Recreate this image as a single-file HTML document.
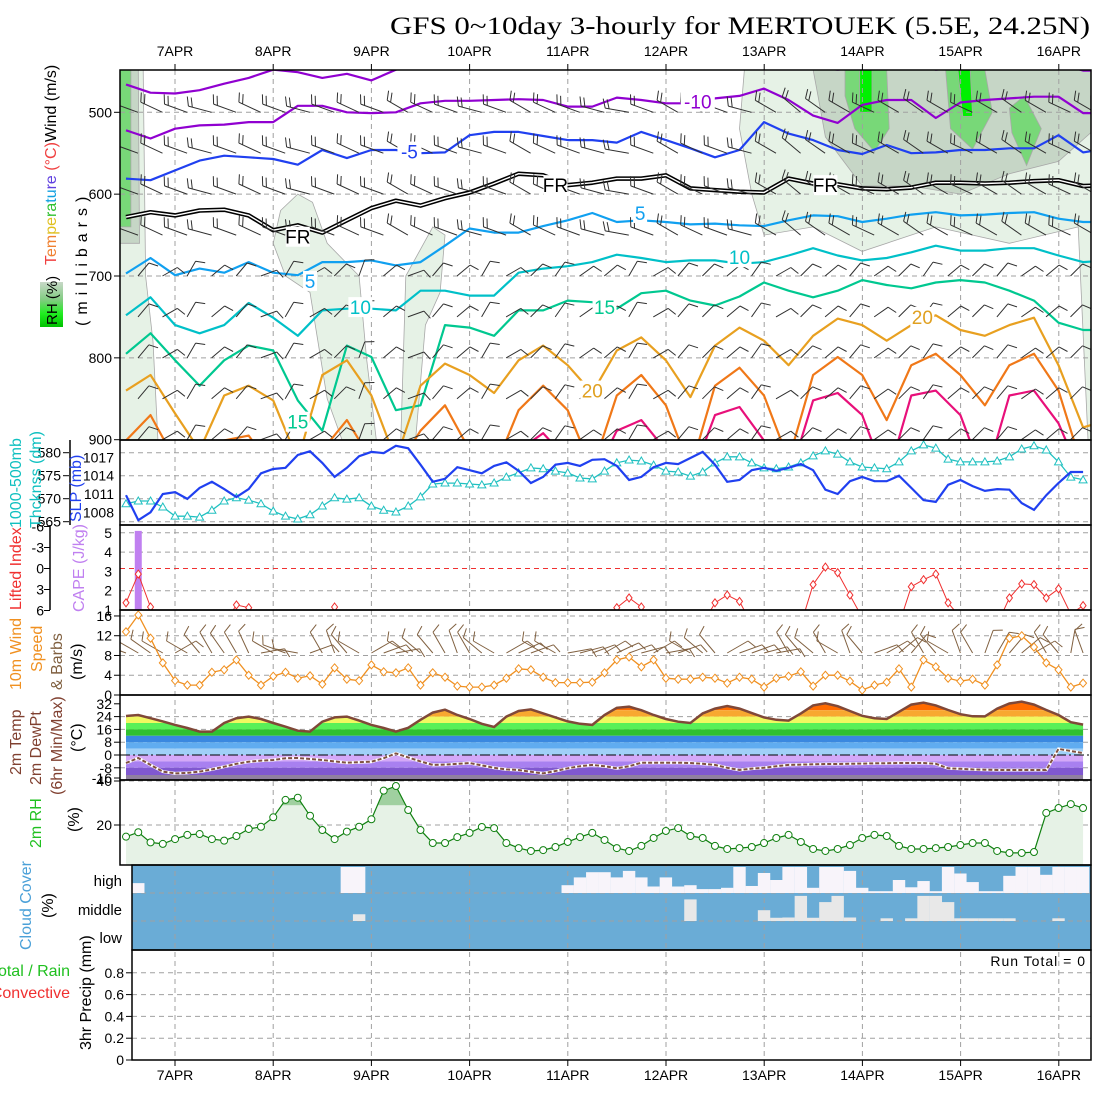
<!DOCTYPE html>
<html><head><meta charset="utf-8">
<style>
html,body{margin:0;padding:0;background:#fff;}
svg{display:block;font-family:"Liberation Sans",sans-serif;}
</style></head>
<body>
<svg id="chart" xmlns="http://www.w3.org/2000/svg" width="1100" height="1100" viewBox="0 0 1100 1100">
<defs>
<clipPath id="c1"><rect x="120" y="70" width="971" height="370"/></clipPath>
<clipPath id="c2"><rect x="120" y="440" width="971" height="85"/></clipPath>
<clipPath id="c3"><rect x="120" y="525" width="971" height="85"/></clipPath>
<clipPath id="c4"><rect x="120" y="610" width="971" height="85"/></clipPath>
<clipPath id="c5"><rect x="120" y="695" width="971" height="85"/></clipPath>
<clipPath id="c6"><rect x="120" y="780" width="971" height="85"/></clipPath>
<clipPath id="c7"><rect x="132" y="865" width="959" height="85"/></clipPath>
<clipPath id="tclip"><path id="tclipPath" d=""/></clipPath>
<linearGradient id="rhgrad" x1="0" y1="1" x2="0" y2="0"><stop offset="0" stop-color="#00c000"/><stop offset="0.3" stop-color="#20ee20"/><stop offset="0.6" stop-color="#80cc80"/><stop offset="1" stop-color="#c8d8c8"/></linearGradient>
</defs>
<text x="390" y="34" font-family="Liberation Serif, serif" font-size="25" textLength="700" lengthAdjust="spacingAndGlyphs">GFS 0~10day 3-hourly for MERTOUEK (5.5E, 24.25N)</text>
<g id="bg"></g>
<g id="grid"></g>
<g id="marks"></g>
<g id="frames" fill="none" stroke="#000" stroke-width="1.5">
<rect x="120" y="70" width="971" height="370"/>
<rect x="120" y="440" width="971" height="85"/>
<rect x="120" y="525" width="971" height="85"/>
<rect x="120" y="610" width="971" height="85"/>
<rect x="120" y="695" width="971" height="85"/>
<rect x="120" y="780" width="971" height="85"/>
<rect x="132" y="865" width="959" height="85"/>
<rect x="132" y="950" width="959" height="110"/>
<line x1="70" y1="440" x2="70" y2="525"/>
<line x1="50" y1="525" x2="50" y2="610"/>
</g>
<g id="ticks" font-size="13"></g>
<g id="side" font-size="15">
<text transform="translate(56,265) rotate(-90)" font-size="16"><tspan fill="#f04040">T</tspan><tspan fill="#f08030">em</tspan><tspan fill="#e0c020">pe</tspan><tspan fill="#30c030">ra</tspan><tspan fill="#10a0e0">tu</tspan><tspan fill="#6040e0">re</tspan><tspan fill="#f04040"> (°C)</tspan><tspan fill="#000">Wind (m/s)</tspan></text>
<rect x="40" y="282" width="23" height="45" fill="url(#rhgrad)"/>
<text transform="translate(57,325) rotate(-90)" font-size="15">RH (%)</text>
<text transform="translate(87,326) rotate(-90)" font-size="16" letter-spacing="6">(millibars)</text>
<text transform="translate(21,528) rotate(-90)" fill="#10c0c0" font-size="16">1000-500mb</text>
<text transform="translate(41,528) rotate(-90)" fill="#10c0c0" font-size="16">Thcknss (dm)</text>
<text transform="translate(81,522) rotate(-90)" fill="#2040f0" font-size="16">SLP (mb)</text>
<text transform="translate(21,610) rotate(-90)" fill="#f03030" font-size="16">Lifted Index</text>
<text transform="translate(84,612) rotate(-90)" fill="#c080f0" font-size="16">CAPE (J/kg)</text>
<text transform="translate(21,690) rotate(-90)" fill="#f09020" font-size="16">10m Wind</text>
<text transform="translate(42,672) rotate(-90)" fill="#f09020" font-size="16">Speed</text>
<text transform="translate(62,690) rotate(-90)" fill="#806040" font-size="16">&amp; Barbs</text>
<text transform="translate(82,680) rotate(-90)" font-size="16">(m/s)</text>
<text transform="translate(21,775) rotate(-90)" fill="#804030" font-size="16">2m Temp</text>
<text transform="translate(41,785) rotate(-90)" fill="#804030" font-size="16">2m DewPt</text>
<text transform="translate(62,795) rotate(-90)" fill="#804030" font-size="16">(6hr Min/Max)</text>
<text transform="translate(82,752) rotate(-90)" font-size="16">(°C)</text>
<text transform="translate(41,848) rotate(-90)" fill="#20c020" font-size="16">2m RH</text>
<text transform="translate(79,832) rotate(-90)" font-size="16">(%)</text>
<text transform="translate(31,950) rotate(-90)" fill="#4aa0d8" font-size="16">Cloud Cover</text>
<text transform="translate(53,918) rotate(-90)" font-size="16">(%)</text>
<text x="70" y="976" fill="#20c020" font-size="16" text-anchor="end">Total / Rain</text>
<text x="70" y="998" fill="#f03030" font-size="16" text-anchor="end">Convective</text>
<text transform="translate(91,1050) rotate(-90)" font-size="16">3hr Precip (mm)</text>
<text x="122" y="886" font-size="15" text-anchor="end">high</text>
<text x="122" y="915" font-size="15" text-anchor="end">middle</text>
<text x="122" y="943" font-size="15" text-anchor="end">low</text>
<text x="1086" y="966" font-size="14" text-anchor="end" letter-spacing="1">Run Total = 0</text>
</g>
</svg>
<script>
// ---------- data ----------
const days = ['7APR','8APR','9APR','10APR','11APR','12APR','13APR','14APR','15APR','16APR'];
const presTicks = [500,600,700,800,900];
const thkTicks = [580,575,570,565];
const slpTicks = [1017,1014,1011,1008];
const capeTicks = [1,2,3,4,5];
const liTicks = [6,3,0,-3,-6];
const wsTicks = [0,4,8,12,16];
const tTicks = [32,24,16,8,0,-8,-16];
const rhTicks = [20,40];
const prTicks = [0,0.2,0.4,0.6,0.8];

// isotherms (mb), 6-hourly from 6APR12Z
const isoM15 = [466,476,477,473,465,458,448,451,458,453,461,448,439,438,438,438,438,438,438,438,438,438,438,438,438,438,440,440,445,448,445,440,440,448,445,440,440,440,440,449,449];
const isoM10 = [522,532,520,516,515,512,512,492,492,500,501,500,489,486,486,485,484,485,493,493,482,485,489,489,483,480,471,485,504,513,491,485,485,507,488,485,483,481,481,501,501];
const isoM5 = [581,583,571,559,553,555,557,564,546,556,546,546,550,549,528,524,524,529,534,534,537,524,534,544,555,546,512,526,534,546,551,540,550,549,546,546,544,544,528,549,544];
const isoFR = [628,622,626,620,619,626,644,638,647,632,617,608,614,605,598,587,575,577,589,586,581,581,577,593,595,597,598,581,587,588,593,594,592,586,586,587,586,584,583,590,589];
const iso5 = [697,678,699,691,696,683,696,699,683,683,681,687,683,663,642,647,647,639,632,623,634,632,634,637,636,638,639,632,626,627,634,630,625,622,626,625,623,622,630,634,634];
const iso10 = [748,726,760,770,760,733,751,773,742,740,740,742,718,718,724,724,696,691,688,683,674,678,683,681,681,685,683,675,666,675,681,678,671,663,669,669,666,666,675,683,681];
const iso15 = [795,770,803,834,803,785,791,852,889,785,799,864,858,760,763,773,742,742,730,732,740,721,718,730,736,725,708,718,726,718,705,711,715,708,705,708,718,730,757,766,766];
const iso20 = [840,821,868,913,846,834,852,925,821,803,846,925,834,807,821,843,803,785,809,843,791,775,803,848,785,763,779,809,773,752,760,779,760,748,766,773,760,751,809,885,876];
const iso25 = [901,870,925,937,901,895,937,937,913,876,925,937,889,858,913,937,864,834,864,937,846,821,858,937,834,812,846,925,821,799,821,876,809,795,821,858,809,795,840,937,937];
const iso30 = [950,950,950,950,950,950,950,950,950,950,950,950,950,950,950,950,913,892,925,950,889,876,913,950,870,860,901,950,852,843,870,950,846,840,870,950,846,840,880,950,950];
const isoLabels = [['-10',46.6,487,'#9000d0'],['-5',23.1,548,'#2040f0'],['FR',14,652,'#000'],['FR',35,589,'#000'],['FR',57,589,'#000'],['5',41.9,623,'#10a0f0'],['5',15,706,'#10a0f0'],['10',19.1,738,'#00c0c8'],['10',50,677,'#00c0c8'],['15',14,878,'#00c890'],['15',39,738,'#00c890'],['20',38,840,'#e0a020'],['20',64.9,750,'#e0a020']];
// upper-air barbs, 6-hourly direction (deg from)
const barbLevels = [500,550,600,650,700,750,800,850,900];
const dirUpper = [290,295,290,285,290,295,290,285,290,295,290,300,295,290,285,290,300,295,290,285,280,290,300,295,290,285,300,310,305,300,295,300,305,300,295,300,305,300,295,300,300];
const dirLower = [40,60,30,50,40,70,30,60,45,20,50,70,40,50,30,60,45,35,55,50,30,60,40,45,50,35,60,45,50,40,55,45,35,50,45,40,55,50,45,40,50];
// RH shading regions [6h index, mb]
const rhPale = [
 [[-0.3,448],[0.7,448],[0.8,700],[1.1,780],[1.3,900],[-0.3,900]],
 [[6.3,620],[7,600],[7.6,610],[8.2,660],[9.5,700],[9.8,800],[10.2,900],[8.8,900],[8.2,850],[7.5,720],[6.5,700],[6,660]],
 [[11.4,700],[12.5,640],[13,650],[12.8,720],[12.2,760],[11.8,900],[11.2,900]],
 [[25.2,448],[40.5,448],[40.5,900],[39.2,900],[38.8,640],[36,660],[33,640],[30,670],[28,640],[26,650],[25.5,600],[25,520]]];
const rhMid = [
 [[-0.3,448],[0.5,448],[0.55,660],[-0.3,660]],
 [[28,448],[39.5,448],[39.5,520],[38,560],[36,575],[34,600],[32,590],[30,590],[28.5,530],[28.2,480]],
 [[39.3,480],[40.5,480],[40.5,900],[39.6,900]]];
const rhGreen = [
 [[-0.3,448],[0.2,448],[0.2,640],[-0.3,640]],
 [[29.3,448],[31,448],[31.1,520],[30.5,548],[29.7,520],[29.3,480]],
 [[33.4,448],[35,448],[35.3,500],[34.5,545],[33.6,520]],
 [[36,495],[36.6,480],[37.3,520],[36.7,565],[36.1,525]]];
const rhBright = [[[29.9,448],[30.4,448],[30.4,500],[29.9,500]],[[33.9,448],[34.4,448],[34.5,505],[34.1,505]]];

// 3-hourly series
const slp = [1010.8,1006.7,1008.0,1011.0,1011.3,1010.2,1012.0,1013.0,1011.8,1010.5,1011.8,1014.4,1015.1,1015.3,1017.4,1018.0,1016.1,1013.8,1015.3,1017.2,1017.9,1017.7,1018.9,1018.5,1015.8,1013.0,1013.5,1015.4,1014.9,1014.4,1015.6,1016.2,1014.8,1012.8,1013.8,1015.8,1016.1,1015.6,1016.6,1016.7,1015.6,1013.3,1013.8,1015.4,1016.1,1015.9,1016.9,1017.9,1015.8,1013.0,1013.3,1014.9,1015.3,1014.8,1015.3,1015.9,1014.9,1011.7,1011.0,1013.1,1013.8,1013.1,1013.1,1014.0,1012.0,1010.0,1009.7,1012.5,1013.3,1012.3,1011.5,1011.8,1011.7,1009.5,1008.4,1010.8,1012.8,1014.6,1014.6];
const thickness = [568.9,569.5,569.5,568.2,566.2,566.2,566.0,567.5,569.5,570.2,569.7,568.9,567.3,566.2,565.6,566.5,568.4,570.2,569.9,570.2,568.4,567.5,567.1,568.4,570.4,573.2,573.4,573.4,573.2,573.0,573.4,574.7,575.6,576.7,576.5,576.0,575.6,574.5,574.3,576.0,577.8,578.4,578.2,577.3,576.0,575.8,574.9,575.8,577.8,579.1,579.1,577.8,576.7,576.5,576.9,577.8,579.3,580.4,579.7,578.0,576.9,576.7,576.5,578.0,580.4,581.7,581.0,578.6,578.0,578.0,578.0,578.2,579.1,580.8,581.5,580.6,578.0,574.7,574.1];
const cape = [0,5.1,0,0,0,0,0,0,0,0,0,0,0,0,0,0,0,0,0,0,0,0,0,0,0,0,0,0,0,0,0,0,0,0,0,0,0,0,0,0,0,0,0,0,0,0,0,0,0,0,0,0,0,0,0,0,0,0,0,0,0,0,0,0,0,0,0,0,0,0,0,0,0,0,0,0,0,0,0];
const liftedIndex = [4.9,0.8,5.5,8,8,8,8,8,8,5.2,5.6,8,8,8,8,8,8,5.5,8,8,8,8,8,8,8,8,8,8,8,8,8,8,8,8,8,8,8,8,8,8,5.6,4.2,5.5,8,8,8,8,8,4.9,3.8,4.7,8,8,8,8,8,2.3,-0.2,0.6,3.8,7,8,8,8,2.6,1.6,0.8,4.9,7,8,8,8,4.2,2.2,2.3,4.2,2.9,6.5,5.3];
const windSpeed = [12.8,16.2,11.5,6.5,2.9,2.0,2.0,4.6,5.1,7.1,4.0,2.0,3.8,4.6,3.4,3.9,2.2,5.5,3.2,2.9,6.1,4.7,4.5,5.5,2.0,4.5,3.6,1.8,1.6,1.6,2.0,3.4,5.3,5.1,3.6,2.5,2.5,2.5,2.6,4.5,7.1,7.7,5.7,7.1,3.4,3.2,3.2,3.6,3.4,2.4,3.6,3.2,1.6,3.4,3.8,4.7,1.8,4.0,4.0,2.8,1.0,2.0,2.6,5.3,1.6,7.1,5.7,3.4,2.8,3.2,2.0,6.1,11.5,12.0,9.7,6.5,5.1,1.6,2.4];
const windDir = [290,300,305,300,60,300,320,330,325,330,335,80,300,290,280,70,330,340,320,300,60,70,80,300,310,320,330,340,330,310,300,60,65,70,300,300,80,75,70,60,65,70,75,60,80,70,300,310,320,60,70,70,75,80,330,320,310,330,300,340,320,70,60,50,40,330,320,300,340,330,20,30,40,50,60,330,320,10,340];
const temp2m = [24.4,25,23,21,18.8,16.9,14.6,14.6,20,23,24,22.5,20,17.7,15.2,14.6,20.8,23.5,24,21.5,18.8,16.9,14.6,17,22,26.5,28.3,25,22.5,19.5,17.5,24,27.5,28.5,26,23.5,21,19.5,18.8,25,29.5,30.2,28,25,22.5,20.8,20,26,29,30.6,29,26.2,23.5,22,21.5,26,31,32.3,30.5,27.5,24.5,23,22.5,27,31.5,32.7,31,28.1,25.5,24.2,24.1,29,32.2,33.3,31.5,28.1,25,20.5,19];
const dew2m = [-5,-1.9,-6.2,-10.4,-11.5,-11.2,-10.4,-9,-7.3,-5.5,-4.2,-3.5,-3.1,-2,-1.9,-2.5,-3.1,-4,-4.8,-4.5,-4.2,-2,1,-1.5,-4,-6.2,-6,-5.5,-5,-6.5,-8,-9,-9.4,-10.5,-11.5,-10,-8.3,-7,-6.2,-7,-8.3,-7,-4.8,-4.8,-4.8,-4.8,-5,-5.5,-6.2,-8,-9.4,-8.5,-8,-7,-6.2,-6,-5.8,-5.6,-5.6,-5.5,-5.4,-5.2,-5.1,-5,-5,-5,-5.5,-8.3,-8.6,-9,-9.2,-9.4,-9.4,-9.4,-9.4,-9.4,3.8,2.5,1.2];
const rh2m = [14.7,16.7,12.1,11.4,13.6,15.5,15.9,13.6,12.9,15,18.2,19.2,23.5,31.4,32.4,24.2,17.7,13.6,17,19.2,22.6,35.6,37.7,26.8,17.7,11.8,11.8,14.5,16.4,19.1,18.6,11.8,9.5,8.2,8.6,10,12.3,14.5,16.4,13.2,9.5,8.2,10.5,14.1,17.3,18.6,15,14.1,10.5,9.1,9.5,10,11.8,14.1,15.5,12.3,9.1,8.2,9.1,10.9,14.1,15.5,15,10.5,9.1,9.1,9.5,10,10.9,11.8,11.8,8.2,7.3,7.3,7.7,25.5,27.7,29.5,27.7];
const cloudHigh = [0,0.38,0,0,0,0,0,0,0,0,0,0,0,0,0,0,0,0,1,1,0,0,0,0,0,0,0,0,0,0,0,0,0,0,0,0,0.3,0.6,0.8,0.8,0.6,0.85,0.6,0.25,0.6,0.25,0.3,0.15,0.15,0.2,1,0.27,0.77,0.5,1,1,0.2,1,1,0.85,0.2,0.07,0.07,0.5,0.22,0.46,0.07,1,0.75,0.42,0.07,0.07,0.66,1,1,0.7,1,1,1];
const cloudMid = [0,0,0,0,0,0,0,0,0,0,0,0,0,0,0,0,0,0,0,0.25,0,0,0,0,0,0,0,0,0,0,0,0,0,0,0,0,0,0,0,0,0,0,0,0,0,0,0.8,0,0,0,0,0,0.4,0.12,0.13,0.93,0.12,0.7,0.93,0.13,0,0,0.1,0,0.1,0.93,0.93,0.7,0.1,0.1,0.1,0.1,0.1,0,0,0,0.1,0,0];
const cloudLow = new Array(79).fill(0);
const precip = new Array(79).fill(0);

// ---------- axes ----------
const NS = 'http://www.w3.org/2000/svg';
const X = i => 126 + i*12.27;
const X6 = j => 126 + j*24.54;
const yP = p => 112.3 + (p-500)*0.8185;
const ySLP = v => 475.7 + (1014-v)*6.1;
const yThk = v => 452.7 + (580-v)*4.6;
const yCAPE = v => 610 - (v-1)*19.3;
const yLI = v => 568.5 + v*7;
const yWS = v => 695 - v*4.94;
const yT = v => 755 - v*1.6;
const yRH = v => 869 - v*2.2;
const yPr = v => 1060 - v*109;
const xDay = d => 175 + d*98.2;

function mk(tag, attrs, parent){const e=document.createElementNS(NS,tag);for(const k in attrs)e.setAttribute(k,attrs[k]);parent.appendChild(e);return e;}
function poly(xs, ys){return xs.map((x,k)=>(k?'L':'M')+x.toFixed(1)+' '+ys[k].toFixed(1)).join('');}
const gBg=document.getElementById('bg'), gGrid=document.getElementById('grid'), gM=document.getElementById('marks'), gT=document.getElementById('ticks');
const panel = n => {const g=mk('g',{'clip-path':'url(#c'+n+')'},gM);return g;};

// background shading in upper panel
const gRH = mk('g',{'clip-path':'url(#c1)'},gBg);
[[rhPale,'#e6f2e6'],[rhMid,'#c6d6c6'],[rhGreen,'#78d878'],[rhBright,'#00f000']].forEach(([set,col])=>{
  set.forEach(reg=>{
    const el = mk('path',{d:poly(reg.map(q=>X6(q[0])),reg.map(q=>yP(q[1])))+'Z',fill:col,stroke:'#a8a8a8','stroke-width':0.8},gRH);
    
    
  });
});
// cloud background
{const el=mk('rect',{x:132,y:865,width:959,height:85,fill:'#6aacd6'},gBg);

}

// grid lines
days.forEach((d,k)=>{
  const x=xDay(k);
  const el=mk('line',{x1:x,y1:70,x2:x,y2:1060,stroke:'#a0a0a0','stroke-dasharray':'5,4','stroke-width':1},gGrid);
  
  
  [[56],[1080]].forEach(([yy])=>{
    const t=mk('text',{x:x,y:yy,'text-anchor':'middle','font-size':14},gT);t.textContent=d;
    
    
    mk('line',{x1:x,y1:yy===56?64:1060,x2:x,y2:yy===56?70:1066,stroke:'#000'},gT);
  });
});
function hgrid(y,x0,col,dash){const el=mk('line',{x1:x0,y1:y,x2:1091,y2:y,stroke:col||'#a0a0a0','stroke-dasharray':dash||'5,4'},gGrid);

}
function tlabel(txt,x,y,anchor,col){const t=mk('text',{x:x,y:y+5,'text-anchor':anchor||'end',fill:col||'#000','font-size':14},gT);t.textContent=txt;


mk('line',{x1:anchor==='start'?x-4:x+2,y1:y,x2:anchor==='start'?x-10:x+8,y2:y,stroke:'#000'},gT);}
presTicks.forEach(p=>{if(p<900)hgrid(yP(p),120);tlabel(String(p),112,yP(p));});
thkTicks.forEach(v=>{hgrid(yThk(v),120);tlabel(String(v),61,yThk(v));});
slpTicks.forEach(v=>{const t=mk('text',{x:114,y:ySLP(v)+5,'text-anchor':'end','font-size':14},gT);t.textContent=String(v);

});
capeTicks.forEach(v=>{if(v>1&&v!==3)hgrid(yCAPE(v),120);const t=mk('text',{x:112,y:yCAPE(v)+5,'text-anchor':'end','font-size':14},gT);t.textContent=String(v);

});
liTicks.forEach(v=>{const t=mk('text',{x:44,y:yLI(v)+5,'text-anchor':'end','font-size':14},gT);t.textContent=String(v);


mk('line',{x1:44,y1:yLI(v),x2:50,y2:yLI(v),stroke:'#000'},gT);});
hgrid(yLI(0),120,'#f03030','5,4');
wsTicks.forEach(v=>{if(v>0)hgrid(yWS(v),120);tlabel(String(v),112,yWS(v));});
tTicks.forEach(v=>{if(v<32&&v>-16&&v!==0)hgrid(yT(v),120);if(v===0)hgrid(yT(0),120,'#000','10,3,2,3');tlabel(String(v),112,Math.min(yT(v),778));});
rhTicks.forEach(v=>{hgrid(yRH(v),120);tlabel(String(v),112,yRH(v));});
hgrid(893,132);hgrid(921,132);
prTicks.forEach(v=>{if(v>0)hgrid(yPr(v),132);tlabel(String(v),124,yPr(v));});

// ---------- upper panel: isotherms ----------
const g1 = panel(1);
const idx41 = isoFR.map((_,j)=>j);
function iso(arr,col,name,w){
  const d=poly(idx41.map(X6),arr.map(yP));
  const el=mk('path',{d:d,fill:'none',stroke:col,'stroke-width':w||2.2,'stroke-linejoin':'round'},g1);
  
  
  return d;
}
iso(isoM15,'#9000d0','isotherm-minus15');
iso(isoM10,'#9000d0','isotherm-minus10');
iso(isoM5,'#2040f0','isotherm-minus5');
const dFR = iso(isoFR,'#000','isotherm-freezing',4.5);
{const el=mk('path',{d:dFR,fill:'none',stroke:'#fff','stroke-width':1.4},g1);

}
iso(iso5,'#10a0f0','isotherm-5');
iso(iso10,'#00c0c8','isotherm-10');
iso(iso15,'#00c890','isotherm-15');
iso(iso20,'#e8a020','isotherm-20');
iso(iso25,'#f07818','isotherm-25');
iso(iso30,'#e8107a','isotherm-30');
// barbs
function barb(g,sx,sy,dir,L,nf,col,name){
  const r=dir*Math.PI/180, ex=sx+L*Math.sin(r), ey=sy-L*Math.cos(r);
  const ux=(sx-ex)/L, uy=(sy-ey)/L;
  let d='M'+sx.toFixed(1)+' '+sy.toFixed(1)+'L'+ex.toFixed(1)+' '+ey.toFixed(1);
  for(let k=0;k<nf;k++){const bx=ex+ux*4*k, by=ey+uy*4*k;d+='M'+bx.toFixed(1)+' '+by.toFixed(1)+'l'+((uy-ux*0.4)*9).toFixed(1)+' '+((-ux-uy*0.4)*9).toFixed(1);}
  const el=mk('path',{d:d,fill:'none',stroke:col,'stroke-width':1},g);
  
  
}
barbLevels.forEach(p=>{
  idx41.forEach(j=>{
    const up=p<=650;
    barb(g1,X6(j)+12,yP(p),up?dirUpper[j]:dirLower[j],up?24:17,up?2:1,'#303030','upper-wind-barb');
  });
});
isoLabels.forEach(([t,i,p,c])=>{
  const w=t.length*10+4;
  const r=mk('rect',{x:X(i)-w/2,y:yP(p)-10,width:w,height:20,fill:'#fff'},g1);
  
  
  const el=mk('text',{x:X(i),y:yP(p)+7,'text-anchor':'middle',fill:c,'font-size':19},g1);el.textContent=t;
  
  
});

// ---------- panel 2 ----------
const g2=panel(2); const idx=slp.map((_,i)=>i);
{const el=mk('path',{d:poly(idx.map(X),thickness.map(yThk)),fill:'none',stroke:'#20c0c0','stroke-width':1.3},g2);

}
thickness.forEach((v,i)=>{const x=X(i),y=yThk(v);
 const el=mk('path',{d:`M${x} ${y-4}L${x+4} ${y+3}L${x-4} ${y+3}Z`,fill:'#fff',stroke:'#20c0c0','stroke-width':1},g2);
 
 });
{const el=mk('path',{d:poly(idx.map(X),slp.map(ySLP)),fill:'none',stroke:'#2040f0','stroke-width':2.2},g2);

}

// ---------- panel 3 ----------
const g3=panel(3);
cape.forEach((v,i)=>{if(v>1){const el=mk('rect',{x:X(i)-3.5,y:yCAPE(v),width:7,height:610-yCAPE(v),fill:'#c080f0'},g3);
 
 }});
{const el=mk('path',{d:poly(idx.map(X),liftedIndex.map(yLI)),fill:'none',stroke:'#f03030','stroke-width':1},g3);

}
liftedIndex.forEach((v,i)=>{if(v<6.5){const x=X(i),y=yLI(v);
 const el=mk('path',{d:`M${x} ${y-4}L${x+3} ${y}L${x} ${y+4}L${x-3} ${y}Z`,fill:'#fff',stroke:'#f03030'},g3);
 
 }});

// ---------- panel 4 ----------
const g4=panel(4);
windDir.forEach((d,i)=>barb(g4,X(i),653,d,24,1,'#806040','wind10m-barb'));
{const el=mk('path',{d:poly(idx.map(X),windSpeed.map(yWS)),fill:'none',stroke:'#f09020','stroke-width':1.3},g4);

}
windSpeed.forEach((v,i)=>{const x=X(i),y=yWS(v);
 const el=mk('path',{d:`M${x} ${y-4}L${x+3.5} ${y}L${x} ${y+4}L${x-3.5} ${y}Z`,fill:'#fff',stroke:'#f09020'},g4);
 
 });

// ---------- panel 5 ----------
const g5=panel(5);
const tArea=poly(idx.map(X),temp2m.map(yT))+`L${X(78)} 780L${X(0)} 780Z`;
document.getElementById('tclipPath').setAttribute('d',tArea);
const bands=[[28,40,'#ff6a00'],[24,28,'#f8a830'],[20,24,'#f0f860'],[16,20,'#58f058'],[12,16,'#30c030'],[8,12,'#3a88e0'],[4,8,'#60acf0'],[0,4,'#a0d0f8'],[-4,0,'#d4a8f8'],[-8,-4,'#a880f0'],[-12.5,-8,'#8058d0'],[-20,-12.5,'#9080a0']];
const gBand=mk('g',{'clip-path':'url(#tclip)'},g5);
bands.forEach(([lo,hi,c])=>{const el=mk('rect',{x:120,y:yT(hi),width:971,height:yT(lo)-yT(hi),fill:c},gBand);
 
 });
{const el=mk('line',{x1:120,y1:yT(0),x2:1091,y2:yT(0),stroke:'#000','stroke-dasharray':'10,3,2,3'},g5);

}
{const el=mk('path',{d:poly(idx.map(X),temp2m.map(yT)),fill:'none',stroke:'#804838','stroke-width':2.5},g5);

}
{const el=mk('path',{d:poly(idx.map(X),dew2m.map(yT)),fill:'none',stroke:'#fff','stroke-width':3},g5);

}
{const el=mk('path',{d:poly(idx.map(X),dew2m.map(yT)),fill:'none',stroke:'#805040','stroke-width':2,'stroke-dasharray':'4,2'},g5);

}

// ---------- panel 6 ----------
const g6=panel(6);
const rhLine=poly(idx.map(X),rh2m.map(yRH));
{const el=mk('path',{d:rhLine+`L${X(78)} 865L${X(0)} 865Z`,fill:'#e6f2e6'},g6);

}
{const gc=mk('g',{},g6);
 const cp=mk('clipPath',{id:'rhc'},gc);mk('path',{d:rhLine+`L${X(78)} 865L${X(0)} 865Z`},cp);
 const el=mk('rect',{x:120,y:780,width:971,height:yRH(29)-780,fill:'#a0d0a0','clip-path':'url(#rhc)'},gc);
 
 
 const el2=mk('rect',{x:120,y:yRH(29),width:971,height:865-yRH(29),fill:'#c8d8c8','clip-path':'url(#rhc)',opacity:0},gc);
 
 }
{const el=mk('path',{d:rhLine,fill:'none',stroke:'#108010','stroke-width':1.2},g6);

}
rh2m.forEach((v,i)=>{const el=mk('circle',{cx:X(i),cy:yRH(v),r:3.5,fill:'#fff',stroke:'#108010'},g6);
 
 });

// ---------- panel 7 ----------
const g7=panel(7);
cloudHigh.forEach((v,i)=>{if(v>0){const h=v*26;const el=mk('rect',{x:X(i)-6.2,y:893-h,width:12.4,height:h,fill:'#f8f4fa'},g7);
 
 }});
cloudMid.forEach((v,i)=>{if(v>0){const h=v*27;const el=mk('rect',{x:X(i)-6.2,y:921-h,width:12.4,height:h,fill:'#e8e8e8'},g7);
 
 }});
cloudLow.forEach((v,i)=>{if(v>0){const h=v*28;const el=mk('rect',{x:X(i)-6.2,y:950-h,width:12.4,height:h,fill:'#e8e8e8'},g7);
 
 }});
// ---------- panel 8 ----------
precip.forEach((v,i)=>{if(v>0){const el=mk('rect',{x:X(i)-5,y:yPr(v),width:10,height:1060-yPr(v),fill:'#20c020'},gM);
 
 }});
</script>
</body></html>
